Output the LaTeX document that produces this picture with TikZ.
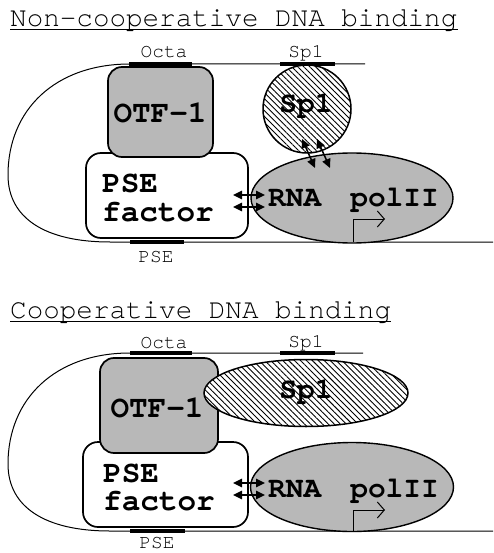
\documentclass[tikz,border=0pt]{standalone}
\usepackage{fontspec}
\setmonofont{TeX Gyre Cursor}
\usetikzlibrary{shapes.geometric,arrows.meta,patterns.meta}
\definecolor{protgray}{RGB}{184,184,184}
\begin{document}
\begin{tikzpicture}[x=1pt,y=-1pt,
  titletext/.style={font=\fontsize{27.6}{30}\selectfont\ttfamily, inner sep=0, anchor=base west},
  sitetext/.style={font=\fontsize{19.5}{22}\selectfont\ttfamily, inner sep=0, anchor=base},
  bigtext/.style={font=\fontsize{31}{34}\selectfont\ttfamily\bfseries, inner sep=0},
  medtext/.style={font=\fontsize{29.5}{32}\selectfont\ttfamily\bfseries, inner sep=0},
  dna/.style={line width=1pt},
  sitebar/.style={line width=4.5pt},
  boxgray/.style={draw, line width=1.7pt, rounded corners=14pt, fill=protgray, inner sep=0},
  boxwhite/.style={draw, line width=1.7pt, rounded corners=15pt, fill=white, inner sep=0},
  polshape/.style={draw, ellipse, line width=1.4pt, fill=protgray, inner sep=0},
  hatch/.style={draw, line width=1.5pt, inner sep=0, preaction={fill=white},
    pattern={Lines[angle=-45,distance=4.2pt,line width=0.9pt]}},
  dbl/.style={line width=1.5pt, {Triangle[length=9pt,width=8.5pt]}-{Triangle[length=9pt,width=8.5pt]}},
  tssarrow/.style={line width=1pt, -{Straight Barb[length=7pt,width=16pt]}}
]
\useasboundingbox (0,0) rectangle (493,553);
\fill[white] (0,0) rectangle (493,553);

%================ Non-cooperative ================
\node[titletext] (title1) at (10,27) {Non-cooperative DNA binding};
\draw[line width=1pt] ([yshift=-3pt]title1.base west) -- ([yshift=-3pt]title1.base east);

% DNA loop
\coordinate (dnaTopEnd1) at (365,64);
\coordinate (dnaBotEnd1) at (493,242);
\draw[dna] (dnaTopEnd1) -- (130,64) .. controls (55,64) and (8,110) .. (8,175)
  .. controls (8,218) and (45,242) .. (110,242) -- (dnaBotEnd1);
\draw[sitebar] (129,64) -- (192,64);
\draw[sitebar] (280,64) -- (335,64);
\draw[sitebar] (130,242) -- (184,242);
\node[sitetext] (octaL1) at (164,58) {Octa};
\node[sitetext] (sp1L1) at (306,58) {Sp1};
\node[sitetext] (pseL1) at (156,262) {PSE};

% proteins
\node[boxwhite, minimum width=162pt, minimum height=85pt] (pse1) at (167,195.5) {};
\node[boxgray, minimum width=105pt, minimum height=90pt] (otf1) at (160.5,112) {};
\node[polshape, minimum width=202pt, minimum height=90pt] (pol1) at (352,198) {};
\node[hatch, circle, minimum size=88pt] (sp1c1) at (307,109) {};

\node[bigtext, anchor=base] (otfT1) at (160,123) {OTF-1};
\node[bigtext, anchor=base west] (pseT1) at (102,193) {PSE};
\node[bigtext, anchor=base west] (facT1) at (102,221) {factor};
\node[medtext, anchor=base] (sp1T1) at (306,113) {Sp1};
\node[medtext, anchor=base west] (polT1) at (268,207) {RNA\hspace{29pt}polII};

% interactions
\coordinate (h1a) at (233,195); \coordinate (h1b) at (265,195);
\coordinate (h2a) at (233,207); \coordinate (h2b) at (265,207);
\draw[dbl] (h1a) -- (h1b);
\draw[dbl] (h2a) -- (h2b);
\coordinate (d1a) at (302,139); \coordinate (d1b) at (315,168);
\coordinate (d2a) at (317,139); \coordinate (d2b) at (330,168);
\draw[dbl] (d1a) -- (d1b);
\draw[dbl] (d2a) -- (d2b);

% transcription start
\coordinate (tss1) at (353,242);
\coordinate (tssE1) at (385,219);
\draw[tssarrow] (tss1) |- (tssE1);

%================ Cooperative ================
\node[titletext] (title2) at (10,318) {Cooperative DNA binding};
\draw[line width=1pt] ([yshift=-3pt]title2.base west) -- ([yshift=-3pt]title2.base east);

\coordinate (dnaTopEnd2) at (363,353);
\coordinate (dnaBotEnd2) at (493,531);
\draw[dna] (dnaTopEnd2) -- (130,353) .. controls (55,353) and (8,399) .. (8,464)
  .. controls (8,507) and (45,531) .. (110,531) -- (dnaBotEnd2);
\draw[sitebar] (130,353) -- (192,353);
\draw[sitebar] (280,353) -- (335,353);
\draw[sitebar] (130,531) -- (185,531);
\node[sitetext] (octaL2) at (164,348) {Octa};
\node[sitetext] (sp1L2) at (306,347) {Sp1};
\node[sitetext] (pseL2) at (157,548) {PSE};

\node[boxwhite, minimum width=165pt, minimum height=85pt] (pse2) at (165.5,484.5) {};
\node[boxgray, minimum width=118pt, minimum height=95pt] (otf2) at (159,405.5) {};
\node[polshape, minimum width=203pt, minimum height=89pt] (pol2) at (352,487) {};
\node[hatch, ellipse, minimum width=204pt, minimum height=67pt] (sp1e2) at (306,393) {};

\node[bigtext, anchor=base] (otfT2) at (157,417) {OTF-1};
\node[bigtext, anchor=base west] (pseT2) at (103,482) {PSE};
\node[bigtext, anchor=base west] (facT2) at (103,510) {factor};
\node[medtext, anchor=base] (sp1T2) at (306,398) {Sp1};
\node[medtext, anchor=base west] (polT2) at (268,497) {RNA\hspace{29pt}polII};

\coordinate (h3a) at (233,483); \coordinate (h3b) at (265,483);
\coordinate (h4a) at (233,495); \coordinate (h4b) at (265,495);
\draw[dbl] (h3a) -- (h3b);
\draw[dbl] (h4a) -- (h4b);

\coordinate (tss2) at (353,531);
\coordinate (tssE2) at (385,510);
\draw[tssarrow] (tss2) |- (tssE2);
\end{tikzpicture}
\end{document}
